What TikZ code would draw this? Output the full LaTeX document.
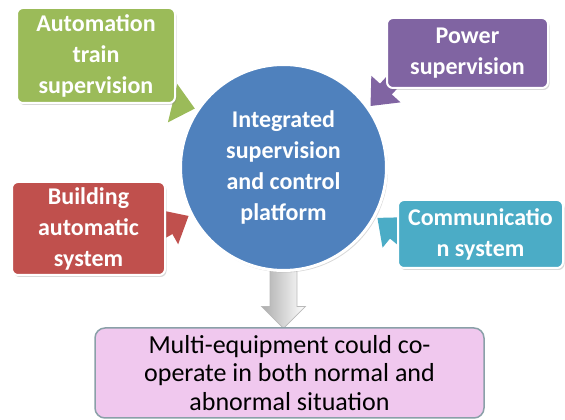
\documentclass[tikz,border=0pt]{standalone}
\usepackage{fontspec}
\setmainfont{Carlito}
\usetikzlibrary{arrows.meta,shapes.arrows,shadows,backgrounds}

\definecolor{atsgreen}{HTML}{9BBB59}
\definecolor{pwrpurple}{HTML}{8064A2}
\definecolor{basred}{HTML}{C0504D}
\definecolor{comteal}{HTML}{4BACC6}
\definecolor{iscsblue}{HTML}{4F81BD}
\definecolor{respink}{HTML}{F0C8EE}
\definecolor{resline}{HTML}{8AA0A8}

\begin{document}
\begin{tikzpicture}[x=1pt, y=1pt, font=\bfseries\fontsize{24}{31}\selectfont]
\tikzset{
  box/.style={draw=white, line width=2pt, rounded corners=6pt, text=white, align=center, inner sep=0pt,
    drop shadow={opacity=0.3, shadow xshift=1.5pt, shadow yshift=-2pt}},
  feed/.style={line width=16pt, -{Triangle[width=38pt, length=23pt]}, shorten <=-10pt, shorten >=2pt},
}
\useasboundingbox (0,0) rectangle (565,420);
\node[box, fill=atsgreen, minimum width=158pt, minimum height=95pt] (ats) at (96,364.5) {Automation\\ train\\ supervision};
\node[box, fill=pwrpurple, minimum width=161pt, minimum height=70pt] (pwr) at (467.5,367) {Power\\ supervision};
\node[box, fill=basred, minimum width=153pt, minimum height=93pt] (bas) at (88.5,191.5) {Building\\ automatic\\ system};
\node[box, fill=comteal, minimum width=165pt, minimum height=68pt] (com) at (480.5,186) {Communicatio\\ n system};
\node[circle, fill=iscsblue, draw=white, line width=3pt, minimum size=206pt, inner sep=0pt, text=white, align=center,
  drop shadow={opacity=0.3, shadow xshift=1.5pt, shadow yshift=-2pt}] (iscs) at (283.5,252.5) {Integrated\\ supervision\\ and control\\ platform};
\node[draw=resline, line width=1.5pt, fill=respink, rounded corners=10pt, minimum width=389pt, minimum height=90pt, align=center,
  font=\mdseries\fontsize{26}{28.5}\selectfont] (res) at (289.5,47) {Multi-equipment could co-\\ operate in both normal and\\ abnormal situation};
\begin{scope}[on background layer]
\draw[feed, atsgreen] (ats.south east) -- (iscs.146);
\draw[feed, pwrpurple] (pwr.south west) -- (iscs.35);
\draw[feed, basred] (bas.east) -- (iscs.207);
\draw[feed, comteal] (com.west) -- (iscs.-28);
\node[single arrow, draw=gray!55, line width=0.8pt, left color=gray!65, right color=white, rotate=-90, anchor=tail,
  minimum height=60pt, inner xsep=0pt, inner ysep=13pt, single arrow head extend=8.5pt] (down) at ([yshift=4pt]iscs.south) {};
\end{scope}
\end{tikzpicture}
\end{document}
